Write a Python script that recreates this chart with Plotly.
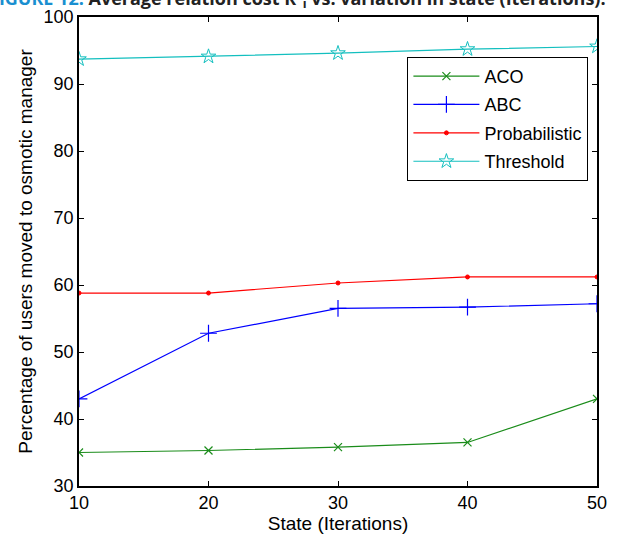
import plotly.graph_objects as go

states = [10, 20, 30, 40, 50]
aco = [35.0, 35.3, 35.8, 36.5, 43.0]
abc = [43.0, 52.8, 56.5, 56.7, 57.2]
probabilistic = [58.8, 58.8, 60.3, 61.2, 61.2]
threshold = [93.7, 94.1, 94.6, 95.2, 95.6]

x_ticks = [10, 20, 30, 40, 50]
y_ticks = [30, 40, 50, 60, 70, 80, 90, 100]

FONT = "Liberation Sans, Arial, sans-serif"

series = [
    ("ACO", aco, "#1a8c1a", "x-thin", 8, 1.2),
    ("ABC", abc, "#0000ff", "cross-thin", 12, 1.2),
    ("Probabilistic", probabilistic, "#ff0000", "circle", 4, 1.0),
    ("Threshold", threshold, "#13bfbf", "star-open", 11, 1.0),
]

fig = go.Figure()
for name, vals, color, sym, size, lw in series:
    fig.add_trace(go.Scatter(
        x=states, y=vals, name=name, mode="lines+markers", legendgroup=name,
        line=dict(color=color, width=1.2),
        marker=dict(symbol=sym, size=size, color=color,
                    line=dict(color=color, width=lw)),
    ))

axis_common = dict(
    showline=True, linecolor="black", linewidth=1.5, mirror="ticks",
    ticks="inside", ticklen=5, tickcolor="black", showgrid=False,
    zeroline=False, automargin=False,
    tickfont=dict(family=FONT, size=18, color="black"),
)

fig.update_layout(
    width=617, height=536,
    margin=dict(l=79, r=20, t=17, b=50),
    paper_bgcolor="white", plot_bgcolor="white",
    font=dict(family=FONT, color="black"),
    showlegend=True,
    legend=dict(
        x=0.634, y=0.915, xanchor="left", yanchor="top",
        bordercolor="black", borderwidth=1, bgcolor="white",
        font=dict(family=FONT, size=18, color="black"),
        tracegroupgap=2, itemwidth=66,
    ),
    xaxis=dict(range=[10, 50], tickvals=x_ticks,
               title=dict(text="State (Iterations)", standoff=2,
                          font=dict(family=FONT, size=19, color="black")),
               **axis_common),
    yaxis=dict(range=[30, 100], tickvals=y_ticks,
               title=dict(text="Percentage of users moved to osmotic manager", standoff=6,
                          font=dict(family=FONT, size=19, color="black")),
               **axis_common),
)

fig.add_annotation(
    xref="paper", yref="paper", x=-0.177, y=1, xanchor="left", yanchor="bottom",
    yshift=3, showarrow=False,
    text='<span style="color:#1a8fd0">FIGURE 12.</span> Average relation cost R<sup>c</sup><sub>i</sub> vs. variation in state (Iterations).',
    font=dict(family="Open Sans, sans-serif", size=18, color="#222222", weight="bold"),
)

fig.write_html(
    "out.html",
    config={"displayModeBar": False},
    post_script="document.body.style.margin='0';document.body.style.overflow='hidden';",
)
